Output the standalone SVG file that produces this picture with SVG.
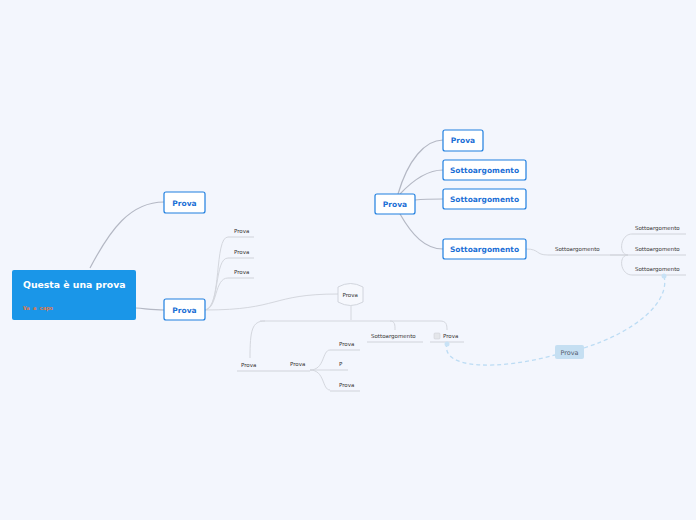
<svg xmlns="http://www.w3.org/2000/svg" width="696" height="520" viewBox="0 0 696 520">
<style>
.bg{fill:#f3f6fd}
.box{fill:#ffffff;stroke:#1f7fe0;stroke-width:1.2}
.bt{font-family:"DejaVu Sans",sans-serif;font-weight:bold;font-size:7.5px;fill:#1b6fd6;text-anchor:middle}
.st{font-family:"DejaVu Sans",sans-serif;font-size:5.5px;fill:#333}
.c{fill:none;stroke:#b4b8c4;stroke-width:1.2}
.cl{fill:none;stroke:#d4d7de;stroke-width:1}
.ul{stroke:#d0d3da;stroke-width:1}
.d{fill:none;stroke:#bcdcf4;stroke-width:1.3;stroke-dasharray:4 3}
</style>
<rect class="bg" width="696" height="520"/>
<g id="connectors">
<path class="c" d="M90,268 C110,230 130,202 164,202"/>
<path class="c" d="M136,308 C148,309 154,310 164,310"/>
<path class="cl" d="M205,310 C222,308 214,237 228,237"/>
<path class="cl" d="M205,310 C220,308 214,258 228,258"/>
<path class="cl" d="M205,310 C218,308 214,278 228,278"/>
<path class="cl" d="M205,310 C280,310 270,294 338,294"/>
<path class="cl" d="M351,306 L351,320"/>
<path class="cl" d="M260,321 L440,321 C446,321 447,324 447,330"/>
<path class="cl" d="M390,321 C395,321 395,325 395,330"/>
<path class="cl" d="M265,321 C252,321 250,330 250,358"/>
<path class="cl" d="M310,370 C325,370 322,350 330,350"/>
<path class="cl" d="M310,370 L330,370"/>
<path class="cl" d="M310,370 C325,370 322,390 330,390"/>
<path class="c" d="M398,194 C408,160 425,140 443,140"/>
<path class="c" d="M400,194 C415,178 430,170 443,170"/>
<path class="c" d="M415,200 C425,199 432,199 443,199"/>
<path class="c" d="M400,214 C412,235 425,249 443,249"/>
<path class="cl" d="M526,249 C540,249 535,255 548,255"/>
<path class="cl" d="M610,255 L628,255"/>
<path class="cl" d="M628,255 C618,255 620,234 632,234"/>
<path class="cl" d="M628,255 C618,255 620,275 632,275"/>
<path class="d" d="M447,343 C440,370 500,370 555,355"/>
<path class="d" d="M584,348 C640,330 670,300 664,276"/>
</g>
<g id="root">
<rect x="12" y="270" width="124" height="50" rx="2" fill="#1a96e8"/>
<text x="23" y="288" font-family="DejaVu Sans,sans-serif" font-weight="bold" font-size="9.3px" fill="#ffffff">Questa è una prova</text>
<text x="23" y="310" font-family="DejaVu Sans Mono,monospace" font-weight="bold" font-size="5.5px" fill="#f0783a">Va a capo</text>
</g>
<g id="n1"><rect class="box" x="164" y="192" width="41" height="21" rx="2"/><text class="bt" x="184.5" y="205.5">Prova</text></g>
<g id="n2"><rect class="box" x="164" y="299" width="41" height="21" rx="2"/><text class="bt" x="184.5" y="312.5">Prova</text></g>
<g id="n3"><text class="st" x="234" y="233">Prova</text><line class="ul" x1="228" y1="237" x2="254" y2="237"/></g>
<g id="n4"><text class="st" x="234" y="254">Prova</text><line class="ul" x1="228" y1="258" x2="254" y2="258"/></g>
<g id="n5"><text class="st" x="234" y="274">Prova</text><line class="ul" x1="228" y1="278" x2="254" y2="278"/></g>
<g id="n6"><path d="M338,287 Q350.5,280 363,287 L363,302 Q350.5,309 338,302 Z" fill="#f6f8fd" stroke="#c8ccd4" stroke-width="0.8"/><text class="st" x="342.5" y="297">Prova</text></g>
<g id="n7"><text class="st" x="241" y="367">Prova</text><line class="ul" x1="237" y1="371" x2="310" y2="371"/></g>
<g id="n8"><text class="st" x="290" y="366">Prova</text></g>
<g id="n9"><text class="st" x="339" y="346">Prova</text><line class="ul" x1="330" y1="350" x2="360" y2="350"/></g>
<g id="n10"><text class="st" x="339" y="366">P</text><line class="ul" x1="330" y1="370" x2="348" y2="370"/></g>
<g id="n11"><text class="st" x="339" y="387">Prova</text><line class="ul" x1="330" y1="391" x2="360" y2="391"/></g>
<g id="n12"><text class="st" x="371" y="338">Sottoargomento</text><line class="ul" x1="367" y1="342" x2="423" y2="342"/></g>
<g id="n13"><rect x="434" y="333" width="6" height="6" rx="1" fill="#e4e6ea" stroke="#c8cad0" stroke-width="0.5"/><text class="st" x="443" y="338">Prova</text><line class="ul" x1="430" y1="342" x2="464" y2="342"/><circle cx="447" cy="344" r="2.5" fill="#c8e2f6"/></g>
<g id="n14"><rect class="box" x="375" y="194" width="40" height="20" rx="2"/><text class="bt" x="395" y="207">Prova</text></g>
<g id="n15"><rect class="box" x="443" y="130" width="40" height="21" rx="2"/><text class="bt" x="463" y="143">Prova</text></g>
<g id="n16"><rect class="box" x="443" y="160" width="83" height="20" rx="2"/><text class="bt" x="484.5" y="173">Sottoargomento</text></g>
<g id="n17"><rect class="box" x="443" y="189" width="83" height="20" rx="2"/><text class="bt" x="484.5" y="202">Sottoargomento</text></g>
<g id="n18"><rect class="box" x="443" y="239" width="83" height="20" rx="2"/><text class="bt" x="484.5" y="252">Sottoargomento</text></g>
<g id="n19"><text class="st" x="555" y="251">Sottoargomento</text><line class="ul" x1="548" y1="255" x2="628" y2="255"/></g>
<g id="n20"><text class="st" x="635" y="230">Sottoargomento</text><line class="ul" x1="632" y1="234" x2="686" y2="234"/></g>
<g id="n21"><text class="st" x="635" y="251">Sottoargomento</text><line class="ul" x1="628" y1="255" x2="686" y2="255"/></g>
<g id="n22"><text class="st" x="635" y="271">Sottoargomento</text><line class="ul" x1="632" y1="275" x2="686" y2="275"/><circle cx="664" cy="276" r="2.5" fill="#c8e2f6"/></g>
<g id="n23"><rect x="555" y="345" width="29" height="14" rx="2" fill="#c5dff2"/><text x="569.5" y="354.5" font-family="DejaVu Sans,sans-serif" font-size="6.5px" fill="#556070" text-anchor="middle">Prova</text></g>
</svg>
